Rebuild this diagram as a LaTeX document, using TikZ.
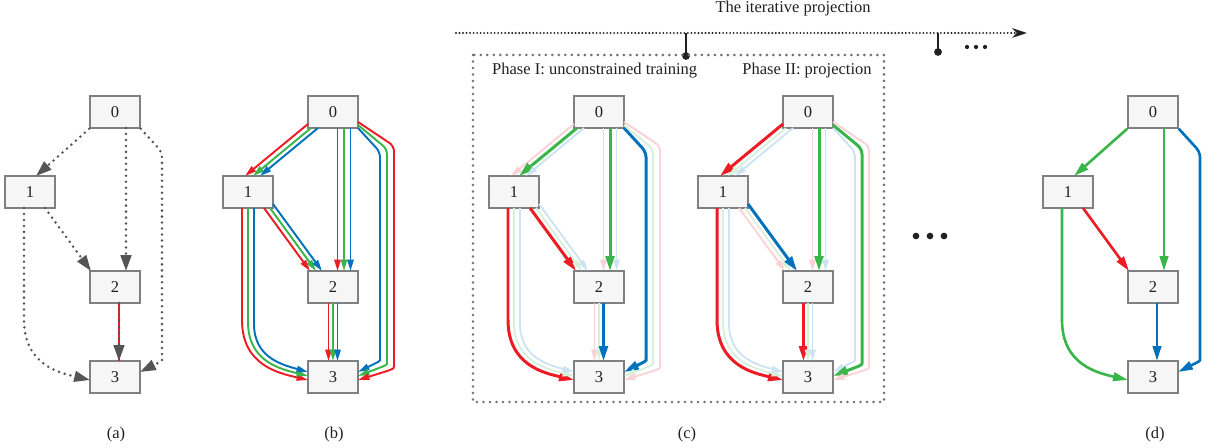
\documentclass[tikz,border=0pt]{standalone}
\usepackage{fontspec}
\setmainfont{Liberation Serif}
\usetikzlibrary{arrows.meta,calc}

\definecolor{cR}{HTML}{ED1C24}
\definecolor{cG}{HTML}{39B54A}
\definecolor{cB}{HTML}{0072BC}
\definecolor{boxgray}{HTML}{808080}
\definecolor{boxfill}{HTML}{F5F6F5}
\definecolor{dotgray}{HTML}{555555}
\definecolor{framegray}{HTML}{707070}
\definecolor{ink}{HTML}{231F20}

\tikzset{
  box/.style={draw=boxgray, fill=boxfill, line width=0.85pt, minimum width=1cm, minimum height=0.64cm, inner sep=0pt},
  mid/.style={draw=#1, line width=1.1pt, -{Triangle[length=6.5pt,width=3.6pt]}},
  dim/.style={draw=#1!20, line width=1.05pt, -{Triangle[length=6.5pt,width=3.6pt]}},
  lit/.style={draw=#1, line width=1.7pt, -{Triangle[length=8.5pt,width=5pt]}},
  solo/.style={draw=#1, line width=1.5pt, -{Triangle[length=8.5pt,width=4.8pt]}},
  dots/.style={draw=dotgray, line width=1.6pt, dash pattern=on 0pt off 3.4pt, line cap=round, -{Triangle[length=9pt,width=6pt]}},
  reddots/.style={dots, preaction={draw=cR, line width=0.6pt, solid, line cap=butt, -}},
  timeline/.style={draw=ink, line width=1.2pt, dash pattern=on 0pt off 2pt, line cap=round, -{Stealth[length=8.5pt,width=5.5pt]}},
  frame/.style={draw=framegray, line width=1.6pt, dash pattern=on 0pt off 3.7pt, line cap=round},
}

% graph with one red, green and blue line per edge
% #1 prefix, #2 x of node 0, #3 base style, #4-#9 highlighted colour of 01 02 03 12 13 23
\newcommand\trigraph[9]{%
  \node[box] (#1-0) at (#2,112) {0};
  \node[box] (#1-1) at (#2-85,192) {1};
  \node[box] (#1-2) at (#2,287) {2};
  \node[box] (#1-3) at (#2,377) {3};
  % 0 -> 1
  \foreach \hue/\sx/\sy/\ex in {R/-25/12/-3, G/-22/16/5, B/-15/16/12}{
    \edef\lnstyle{\if\hue#4lit\else#3\fi}
    \draw[\lnstyle=c\hue] ($(#1-0)+(\sx,\sy)$) -- ($(#1-1)+(\ex,-16)$);}
  % 0 -> 2
  \foreach \hue/\dx in {R/4.5, G/11, B/17.5}{
    \edef\lnstyle{\if\hue#5lit\else#3\fi}
    \draw[\lnstyle=c\hue] ($(#1-0)+(\dx,16)$) -- ($(#1-2)+(\dx,-16)$);}
  % 0 -> 3
  \foreach \hue/\lane in {B/0, G/1, R/2}{
    \edef\lnstyle{\if\hue#6lit\else#3\fi}
    \draw[\lnstyle=c\hue, rounded corners=3pt] ($(#1-0)+(25,16-3*\lane)$) -- ($(#1-0)+(47+7*\lane,40-3*\lane)$)
      -- ($(#1-3)+(47+7*\lane,-22+3*\lane)$) .. controls ($(#1-3)+(47+7*\lane,-16+4*\lane)$) .. ($(#1-3)+(25,-5+4*\lane)$);}
  % 1 -> 2
  \foreach \hue/\sx/\sy/\ex in {R/16/16/-23, G/22/16/-17, B/25/12/-11}{
    \edef\lnstyle{\if\hue#7lit\else#3\fi}
    \draw[\lnstyle=c\hue] ($(#1-1)+(\sx,\sy)$) -- ($(#1-2)+(\ex,-16)$);}
  % 1 -> 3
  \foreach \hue/\lane in {R/0, G/1, B/2}{
    \edef\lnstyle{\if\hue#8lit\else#3\fi}
    \draw[\lnstyle=c\hue] ($(#1-1)+(-6+6*\lane,16)$) -- ($(#1-1)+(-6+6*\lane,128+2*\lane)$)
      .. controls ($(#1-1)+(-6+6*\lane,173-3.5*\lane)$) and ($(#1-3)+(-55+2.5*\lane,-4-4*\lane)$) .. ($(#1-3)+(-25,3-4*\lane)$);}
  % 2 -> 3
  \foreach \hue/\dx in {R/-4.5, G/0, B/4.5}{
    \edef\lnstyle{\if\hue#9lit\else#3\fi}
    \draw[\lnstyle=c\hue] ($(#1-2)+(\dx,16)$) -- ($(#1-3)+(\dx,-16)$);}
}

% graph with one line per edge
% #1 prefix, #2 x of node 0, #3-#8 style of 01 02 03 12 13 23
\newcommand\solograph[8]{%
  \node[box] (#1-0) at (#2,112) {0};
  \node[box] (#1-1) at (#2-85,192) {1};
  \node[box] (#1-2) at (#2,287) {2};
  \node[box] (#1-3) at (#2,377) {3};
  \draw[#3] (#1-0.south west) -- ($(#1-1)+(6,-16)$);
  \draw[#4] ($(#1-0)+(11,16)$) -- ($(#1-2)+(11,-16)$);
  \draw[#5, rounded corners=3pt] (#1-0.south east) -- ($(#1-0)+(47,40)$) -- ($(#1-3)+(47,-22)$)
    .. controls ($(#1-3)+(47,-16)$) .. ($(#1-3)+(25,-5)$);
  \draw[#6] ($(#1-1)+(15,16)$) -- ($(#1-2)+(-24,-16)$);
  \draw[#7] ($(#1-1)+(-6,16)$) -- ($(#1-1)+(-6,128)$)
    .. controls ($(#1-1)+(-6,173)$) and ($(#1-3)+(-55,-4)$) .. ($(#1-3)+(-25,3)$);
  \draw[#8] ($(#1-2)+(4,16)$) -- ($(#1-3)+(4,-16)$);
}

\begin{document}
\begin{tikzpicture}[x=0.02cm, y=-0.02cm,
  every node/.style={font=\fontsize{9.4pt}{11pt}\selectfont, text=ink}]
\useasboundingbox (0,0) rectangle (1207,448);

% (a)
\solograph{a}{115}{dots}{dots}{dots}{dots}{dots}{reddots}

% (b)
\trigraph{b}{333}{mid}{N}{N}{N}{N}{N}{N}

% (c)
\node (title) at (793,9) {The iterative projection};
\coordinate (tstart) at (456,33);
\coordinate (tend) at (1027,33);
\coordinate (tick1) at (686,33);
\coordinate (tick2) at (938,33);
\coordinate (pin1) at (686,56);
\coordinate (pin2) at (938,52);
\draw[timeline] (tstart) -- (tend);
\draw[ink, line width=0.8pt] (tick1) -- (pin1);
\draw[ink, line width=0.8pt] (tick2) -- (pin2);
\fill[ink] (pin1) circle (2.2pt);
\fill[ink] (pin2) circle (2.2pt);
\foreach \x in {967,976,985} \fill[ink] (\x,47) circle (1.2pt);
\draw[frame] (473,55) rectangle (884,402);
\node[anchor=west] (phase1) at (486,71) {Phase I: unconstrained training};
\node (phase2) at (807,71) {Phase II: projection};
\trigraph{p}{599}{dim}{G}{G}{B}{R}{R}{B}
\trigraph{q}{808}{dim}{R}{G}{G}{B}{R}{R}
\foreach \x in {916,930,944} \fill[ink] (\x,236) circle (1.9pt);

% (d)
\solograph{d}{1153}{solo=cG}{solo=cG}{solo=cB}{solo=cR}{solo=cG}{solo=cB}

\node (capa) at (116,435) {(a)};
\node (capb) at (334,435) {(b)};
\node (capc) at (687,435) {(c)};
\node (capd) at (1155,435) {(d)};
\end{tikzpicture}
\end{document}
